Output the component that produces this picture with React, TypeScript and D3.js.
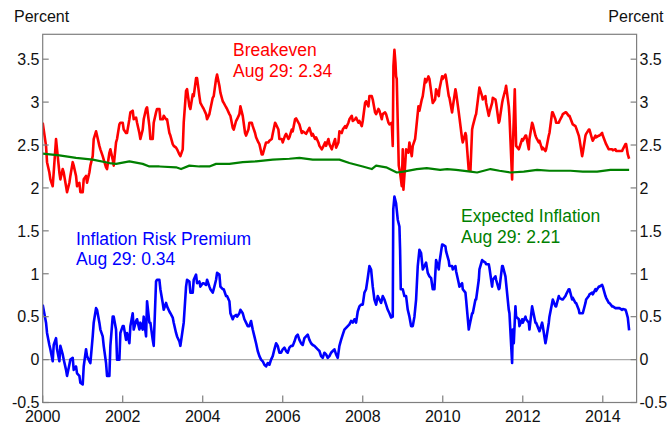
import React from "react";
import * as d3 from "d3";

// ---------- DATA ----------
// Dates are expressed as months since Jan 2000 (fractional = intra-month observations)
const xTickYears = [2000, 2002, 2004, 2006, 2008, 2010, 2012, 2014];
const yTickValues = [-0.5, 0, 0.5, 1, 1.5, 2, 2.5, 3, 3.5];
const yTickLabels = ["-0.5", "0", "0.5", "1", "1.5", "2", "2.5", "3", "3.5"];

// Monthly readings (start of month), Jan 2000 .. Aug 2014
const breakevenMonthly = [
  2.76, 2.49, 2.18, 2.02, 2.57, 2.18, 2.22, 2.02, 2.06, 2.30,
  2.14, 2.06, 1.95, 2.14, 2.18, 2.37, 2.66, 2.49, 2.37, 2.24,
  2.41, 2.33, 2.53, 2.74, 2.76, 2.64, 2.80, 2.90, 2.82, 2.64,
  2.68, 2.92, 2.72, 2.57, 2.88, 2.92, 2.80, 2.80, 2.64, 2.51,
  2.47, 2.39, 2.45, 3.13, 2.95, 3.09, 3.28, 3.07, 2.94, 2.86,
  2.86, 3.05, 3.27, 3.19, 3.01, 2.94, 2.86, 2.70, 2.78, 2.86,
  2.84, 2.61, 2.76, 2.72, 2.59, 2.51, 2.39, 2.53, 2.55, 2.63,
  2.74, 2.57, 2.53, 2.63, 2.59, 2.66, 2.81, 2.74, 2.66, 2.63,
  2.70, 2.63, 2.59, 2.49, 2.47, 2.49, 2.51, 2.49, 2.47, 2.66,
  2.68, 2.70, 2.80, 2.78, 2.82, 2.78, 2.78, 3.01, 3.07, 3.03,
  2.86, 2.90, 2.86, 2.86, 2.74, 2.49, 3.30, 2.22, 2.45, 2.45,
  2.53, 2.49, 2.68, 2.90, 3.07, 3.23, 3.27, 2.99, 3.15, 3.15,
  3.27, 3.28, 3.05, 2.94, 3.11, 2.82, 2.53, 2.61, 2.26, 2.72,
  2.86, 3.17, 3.03, 2.99, 2.88, 3.05, 2.99, 2.78, 3.03, 3.19,
  2.84, 2.45, 2.49, 2.47, 2.55, 2.61, 2.57, 2.74, 2.59, 2.55,
  2.47, 2.45, 2.64, 2.88, 2.76, 2.78, 2.86, 2.88, 2.84, 2.74,
  2.70, 2.57, 2.41, 2.63, 2.68, 2.55, 2.59, 2.61, 2.61, 2.51,
  2.45, 2.44, 2.43, 2.43, 2.45, 2.51,
];
// Intra-month readings [month, value]
const breakevenIntra: [number, number][] = [
  [1.3, 2.30], [2.3, 2.10], [3.3, 2.18], [4.3, 2.45], [5.3, 2.10], [6.3, 2.18], [7.3, 1.95],
  [8.3, 2.14], [9.3, 2.26], [10.3, 2.02], [11.3, 1.95], [12.3, 2.10], [13.3, 2.06], [14.3, 2.26],
  [15.3, 2.57], [16.3, 2.61], [17.3, 2.45], [18.3, 2.33], [19.3, 2.22], [20.3, 2.45], [21.3, 2.26],
  [22.3, 2.57], [23.3, 2.76], [24.3, 2.68], [25.3, 2.64], [26.3, 2.88], [27.3, 2.80], [28.3, 2.76],
  [29.3, 2.57], [30.3, 2.80], [31.3, 2.94], [32.3, 2.57], [33.3, 2.76], [34.3, 2.92], [35.3, 2.80],
  [36.3, 2.84], [37.3, 2.80], [38.3, 2.61], [39.3, 2.49], [40.3, 2.45], [41.3, 2.37], [42.3, 2.76],
  [43.3, 3.15], [44.3, 2.92], [45.3, 3.07], [46.3, 3.28], [47.3, 2.99], [48.3, 2.92], [49.3, 2.80],
  [50.3, 2.92], [51.3, 3.07], [52.3, 3.32], [53.3, 3.11], [54.3, 2.99], [55.3, 2.92], [56.3, 2.84],
  [57.3, 2.68], [58.3, 2.80], [59.3, 2.95],
  [60.7, 2.64], [61.7, 2.68], [62.7, 2.76], [63.7, 2.64], [64.7, 2.53], [65.7, 2.39], [66.7, 2.49],
  [67.7, 2.53], [68.7, 2.57], [69.7, 2.76], [70.7, 2.68], [71.7, 2.57], [72.7, 2.61], [73.7, 2.57],
  [74.7, 2.68], [75.7, 2.80], [76.7, 2.76], [77.7, 2.64], [78.7, 2.64], [79.7, 2.68], [80.7, 2.61],
  [81.7, 2.57], [82.7, 2.53], [83.7, 2.45], [84.7, 2.53], [85.7, 2.57], [86.7, 2.45], [87.7, 2.57],
  [88.7, 2.53], [89.7, 2.64], [90.7, 2.72], [91.7, 2.76], [92.7, 2.84], [93.7, 2.80], [94.7, 2.76],
  [95.7, 2.72], [96.7, 2.99], [97.7, 2.95], [98.7, 3.07], [99.7, 2.88], [100.7, 2.92], [101.7, 2.80],
  [102.7, 2.88], [103.7, 2.76], [104.7, 2.76],
  [105.2, 3.42], [105.5, 3.61], [105.8, 3.46], [106.2, 3.27], [106.5, 2.76],
  [106.8, 2.26], [107.2, 2.18], [107.7, 2.02], [108.2, 1.98], [108.7, 2.26],
  [109.7, 2.41], [110.7, 2.37], [111.7, 2.57], [112.7, 2.95], [113.7, 3.03], [114.7, 3.27],
  [115.7, 3.30], [116.7, 3.07], [117.7, 3.03],
  [118.8, 3.07], [119.8, 3.30], [120.8, 3.32], [121.8, 3.07], [122.8, 2.88], [123.8, 3.15],
  [124.8, 2.88], [125.8, 2.57], [126.8, 2.64], [127.8, 2.20], [128.3, 2.20], [128.8, 2.68],
  [129.8, 2.84], [130.8, 3.11], [131.8, 3.07], [132.8, 3.07], [133.8, 2.84], [134.8, 2.99],
  [135.8, 3.03], [136.8, 2.76], [137.8, 2.99], [138.8, 3.15], [139.8, 2.95],
  [140.8, 2.10], [141.6, 3.15],
  [142.8, 2.45], [143.8, 2.57], [144.8, 2.61], [145.8, 2.45], [146.8, 2.76], [147.8, 2.61],
  [148.8, 2.53], [149.8, 2.45], [150.8, 2.43], [151.8, 2.61], [152.8, 2.88], [153.8, 2.80],
  [154.8, 2.76], [155.8, 2.84], [156.8, 2.88], [157.8, 2.84], [158.8, 2.76], [159.8, 2.72],
  [160.8, 2.61], [161.8, 2.37], [162.8, 2.61], [163.8, 2.68], [164.8, 2.57], [165.8, 2.61],
  [166.8, 2.61], [167.8, 2.64], [168.8, 2.53], [169.8, 2.45], [170.8, 2.45], [171.8, 2.45],
  [172.8, 2.43], [173.8, 2.43], [174.8, 2.51], [175.5, 2.39], [175.9, 2.34],
];

const premiumMonthly = [
  0.64, 0.43, 0.17, -0.02, 0.25, -0.02, 0.06, -0.12, -0.06, 0.02,
  -0.08, -0.19, -0.29, 0.12, -0.02, 0.27, 0.60, 0.43, 0.27, -0.04,
  -0.19, 0.50, 0.35, 0.00, 0.39, 0.23, 0.19, 0.54, 0.45, 0.35,
  0.35, 0.27, 0.43, 0.23, 0.91, 0.93, 0.66, 0.66, 0.56, 0.49,
  0.31, 0.21, 0.35, 0.85, 0.91, 0.78, 0.99, 0.91, 0.89, 0.87,
  0.85, 0.78, 0.93, 0.99, 0.82, 0.74, 0.68, 0.47, 0.52, 0.54,
  0.54, 0.43, 0.39, 0.35, 0.19, 0.04, -0.02, -0.08, -0.06, 0.04,
  0.19, 0.08, 0.12, 0.10, 0.14, 0.16, 0.27, 0.23, 0.17, 0.27,
  0.23, 0.17, 0.14, 0.10, 0.02, 0.06, 0.04, 0.10, 0.06, 0.16,
  0.29, 0.37, 0.41, 0.43, 0.43, 0.62, 0.64, 0.82, 1.09, 0.85,
  0.64, 0.70, 0.74, 0.64, 0.54, 0.50, 1.82, 1.55, 0.82, 0.74,
  0.50, 0.39, 0.70, 1.28, 1.05, 1.13, 0.97, 0.82, 1.16, 1.13,
  1.34, 1.26, 1.09, 1.05, 1.03, 0.85, 0.82, 0.70, 0.39, 0.54,
  0.70, 1.05, 1.15, 1.11, 1.07, 0.93, 0.93, 0.83, 1.09, 0.89,
  0.54, 0.35, 0.50, 0.39, 0.43, 0.47, 0.35, 0.58, 0.43, 0.33,
  0.39, 0.23, 0.50, 0.70, 0.62, 0.72, 0.70, 0.76, 0.82, 0.72,
  0.66, 0.54, 0.54, 0.70, 0.76, 0.76, 0.80, 0.85, 0.85, 0.72,
  0.66, 0.62, 0.60, 0.60, 0.59, 0.56,
];
const premiumIntra: [number, number][] = [
  [1.3, 0.31], [2.3, 0.12], [3.3, 0.17], [4.3, 0.12], [5.3, 0.16], [6.3, 0.0], [7.3, -0.19],
  [8.3, 0.0], [9.3, -0.12], [10.3, -0.16], [11.3, -0.27], [12.3, -0.08], [13.3, 0.04], [14.3, -0.04],
  [15.3, 0.43], [16.3, 0.58], [17.3, 0.35], [18.3, 0.16], [19.3, -0.19], [20.3, 0.16], [21.3, 0.50],
  [22.3, 0.0], [23.3, 0.31], [24.3, 0.39], [25.3, 0.31], [26.3, 0.39], [27.3, 0.35], [28.3, 0.47],
  [29.3, 0.43], [30.3, 0.50], [31.3, 0.68], [32.3, 0.43], [33.3, 0.16], [34.3, 0.93], [35.3, 0.82],
  [36.3, 0.58], [37.3, 0.62], [38.3, 0.54], [39.3, 0.43], [40.3, 0.27], [41.3, 0.16], [42.3, 0.43],
  [43.3, 0.93], [44.3, 0.78], [45.3, 0.93], [46.3, 0.89], [47.3, 0.85], [48.3, 0.89], [49.3, 0.93],
  [50.3, 0.82], [51.3, 0.82], [52.3, 1.01], [53.3, 0.85], [54.3, 0.82], [55.3, 0.74], [56.3, 0.54],
  [57.3, 0.50], [58.3, 0.50], [59.3, 0.58],
  [60.5, 0.47], [61.5, 0.39], [62.5, 0.45], [63.5, 0.27], [64.5, 0.10], [65.5, 0.0], [66.5, -0.06],
  [67.5, -0.04], [68.5, 0.0], [69.5, 0.12], [70.5, 0.16], [71.5, 0.08], [72.5, 0.14], [73.5, 0.08],
  [74.5, 0.16], [75.5, 0.21], [76.5, 0.29], [77.5, 0.19], [78.5, 0.25], [79.5, 0.29], [80.5, 0.19],
  [81.5, 0.16], [82.5, 0.12], [83.5, 0.04], [84.5, 0.08], [85.5, 0.02], [86.5, 0.08], [87.5, 0.12],
  [88.5, 0.02], [89.5, 0.23], [90.5, 0.35], [91.5, 0.39], [92.5, 0.45], [93.5, 0.47], [94.5, 0.56],
  [95.5, 0.64], [96.5, 0.78], [97.5, 0.95], [98.5, 1.05], [99.5, 0.70], [100.5, 0.74], [101.5, 0.66],
  [102.5, 0.70], [103.5, 0.58], [104.5, 0.49],
  [105.15, 1.75], [105.5, 1.90], [106.5, 1.63], [107.2, 1.28], [107.4, 0.82],
  [108.5, 0.74], [109.5, 0.58], [110.5, 0.39], [111.5, 0.50], [112.5, 1.09], [113.5, 1.24],
  [114.5, 1.09], [115.5, 1.01], [116.5, 0.95], [117.5, 0.82],
  [118.8, 1.05], [119.8, 1.34], [120.8, 1.32], [121.8, 1.15], [122.8, 1.09], [123.8, 1.09],
  [124.8, 0.89], [125.8, 0.89], [126.8, 0.78], [127.8, 0.35], [128.8, 0.54], [129.8, 0.70],
  [130.8, 0.93], [131.8, 1.16], [132.8, 1.13], [133.8, 1.11], [134.8, 0.85], [135.8, 0.97],
  [136.8, 0.82], [137.8, 1.09], [138.8, 0.97], [139.8, 0.58],
  [140.8, -0.04], [141.3, 0.19], [141.8, 0.62],
  [142.8, 0.47], [143.8, 0.47], [144.8, 0.50], [145.8, 0.43], [146.8, 0.62], [147.8, 0.43],
  [148.8, 0.35], [149.8, 0.43], [150.8, 0.19], [151.8, 0.43], [152.8, 0.66], [153.8, 0.62],
  [154.8, 0.74], [155.8, 0.70], [156.8, 0.74], [157.8, 0.82], [158.8, 0.70], [159.8, 0.66],
  [160.8, 0.58], [161.8, 0.54], [162.8, 0.66], [163.8, 0.74], [164.8, 0.78], [165.8, 0.82],
  [166.8, 0.85], [167.8, 0.87], [168.8, 0.74], [169.8, 0.66], [170.8, 0.62], [171.8, 0.60],
  [172.8, 0.60], [173.8, 0.58], [174.8, 0.58], [175.5, 0.49], [175.9, 0.34],
];

const expectedInflation: [number, number][] = [
  [0, 2.40], [5, 2.38], [10, 2.35], [15, 2.33], [20, 2.29], [22, 2.28], [26, 2.31],
  [30, 2.28], [32, 2.25], [35, 2.25], [40, 2.24], [41.5, 2.22], [44, 2.26], [47, 2.25],
  [50, 2.25], [52, 2.28], [56, 2.28], [60, 2.30], [64, 2.31], [69, 2.33], [74, 2.34],
  [77, 2.35], [81, 2.33], [85, 2.33], [89, 2.33], [92, 2.29], [96, 2.25], [98.7, 2.22],
  [100, 2.26], [103, 2.24], [106.2, 2.18], [108.2, 2.19], [112.2, 2.22], [115.2, 2.23],
  [119.2, 2.21], [121.3, 2.22], [124, 2.21], [128.3, 2.19], [130.3, 2.18], [134.3, 2.22],
  [137, 2.20], [140.3, 2.18], [144.3, 2.19], [148.3, 2.21], [152, 2.20], [158.3, 2.20],
  [162, 2.19], [166.3, 2.19], [170.3, 2.21], [175.9, 2.21],
];

const labels = {
  breakeven: ["Breakeven", "Aug 29: 2.34"],
  premium: ["Inflation Risk Premium", "Aug 29: 0.34"],
  expected: ["Expected Inflation", "Aug 29: 2.21"],
};

// ---------- HELPERS ----------
function combine(monthly: number[], intra: [number, number][]): [number, number][] {
  const pts: [number, number][] = monthly.map((v, i) => [i, v]);
  return pts.concat(intra).sort((a, b) => a[0] - b[0]);
}

const W = 669;
const H = 425;
const M = { left: 42.7, right: 636.6, top: 34.3, bottom: 402.5 };
const FONT = "'Liberation Sans', Arial, sans-serif";

export default function App() {
  const x = d3.scaleLinear().domain([2000, 2014.845]).range([M.left, M.right]);
  const y = d3.scaleLinear().domain([-0.5, 3.79]).range([M.bottom, M.top]);
  const line = d3
    .line<[number, number]>()
    .x((d) => x(2000 + d[0] / 12))
    .y((d) => y(d[1]));

  const red = combine(breakevenMonthly, breakevenIntra);
  const blue = combine(premiumMonthly, premiumIntra);

  const frame = "#7f7f7f";
  const tickLen = 6;

  return (
    <svg
      width={W}
      height={H}
      style={{ position: "absolute", left: 0, top: 0, background: "#fff" }}
      fontFamily={FONT}
    >
      <defs>
        <clipPath id="plot">
          <rect x={M.left} y={M.top} width={M.right - M.left} height={M.bottom - M.top} />
        </clipPath>
      </defs>
      <rect x={0} y={0} width={W} height={H} fill="#fff" />
      <line x1={M.left} x2={M.right} y1={y(0)} y2={y(0)} stroke="#aaaaaa" strokeWidth={1.2} />
      <g clipPath="url(#plot)" fill="none" strokeLinejoin="round">
        <path d={line(red) || ""} stroke="#ff0000" strokeWidth={2.6} />
        <path d={line(expectedInflation) || ""} stroke="#008000" strokeWidth={2.2} />
        <path d={line(blue) || ""} stroke="#0000ff" strokeWidth={2.6} />
      </g>
      <rect
        x={M.left}
        y={M.top}
        width={M.right - M.left}
        height={M.bottom - M.top}
        fill="none"
        stroke={frame}
        strokeWidth={1.2}
      />
      {yTickValues.map((v, i) => (
        <g key={"y" + i}>
          <line x1={M.left} x2={M.left + tickLen} y1={y(v)} y2={y(v)} stroke={frame} strokeWidth={1.2} />
          <line x1={M.right - tickLen} x2={M.right} y1={y(v)} y2={y(v)} stroke={frame} strokeWidth={1.2} />
          <text x={39.5} y={y(v)} dy="0.36em" textAnchor="end" fontSize={16} fill="#111">
            {yTickLabels[i]}
          </text>
          <text x={639.5} y={y(v)} dy="0.36em" textAnchor="start" fontSize={16} fill="#111">
            {yTickLabels[i]}
          </text>
        </g>
      ))}
      {xTickYears.map((yr) => (
        <g key={"x" + yr}>
          <line x1={x(yr)} x2={x(yr)} y1={M.bottom} y2={M.bottom - 7} stroke={frame} strokeWidth={1.2} />
          <text x={x(yr)} y={421.5} textAnchor="middle" fontSize={16} fill="#111">
            {yr}
          </text>
        </g>
      ))}
      <text x={14} y={22} fontSize={16} fill="#111">Percent</text>
      <text x={663.5} y={22} fontSize={16} textAnchor="end" fill="#111">Percent</text>

      <text x={233} y={56} fontSize={17.5} fill="#ff0000">{labels.breakeven[0]}</text>
      <text x={233} y={76.5} fontSize={17.5} fill="#ff0000">{labels.breakeven[1]}</text>
      <text x={76} y={244.5} fontSize={17.5} fill="#0000ff">{labels.premium[0]}</text>
      <text x={76} y={265} fontSize={17.5} fill="#0000ff">{labels.premium[1]}</text>
      <text x={461} y={221.5} fontSize={17.5} fill="#008000">{labels.expected[0]}</text>
      <text x={461} y={242.5} fontSize={17.5} fill="#008000">{labels.expected[1]}</text>
    </svg>
  );
}
